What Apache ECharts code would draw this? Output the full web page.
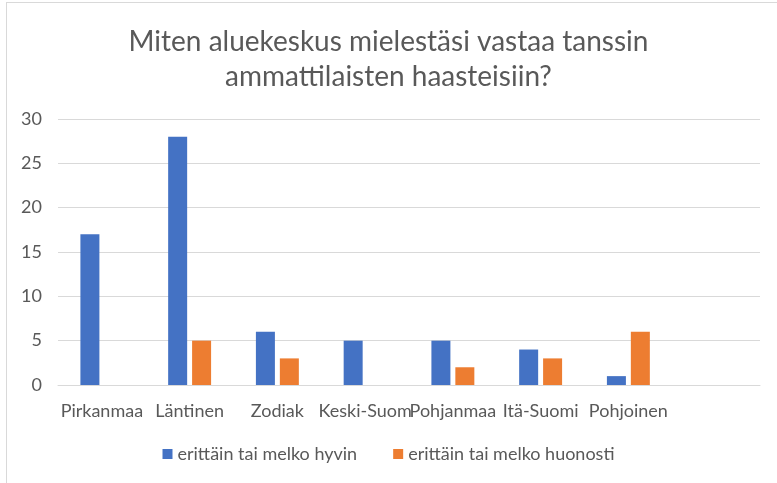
<!DOCTYPE html>
<html>
<head>
<meta charset="utf-8">
<script src="https://cdn.jsdelivr.net/npm/echarts@6/dist/echarts.min.js"></script>
<style>
	html, body { margin: 0; padding: 0; background: #fff; }
	#frame { position: absolute; left: 6px; top: 2px; width: 800px; height: 500px; border-top: 1px solid #d9d9d9; border-left: 1px solid #d9d9d9; }
	#chart { position: absolute; left: 0; top: 0; width: 777px; height: 483px; }
</style>
</head>
<body>
<div id="frame"></div>
<div id="chart"></div>
<script>
	// alueet (viimeinen sarake tyhjä kuten alkuperäisessä)
	var categories = ['Pirkanmaa', 'Läntinen', 'Zodiak', 'Keski-Suom', 'Pohjanmaa', 'Itä-Suomi', 'Pohjoinen', '']
	var hyvin = [17, 28, 6, 5, 5, 4, 1, null]
	var huonosti = [null, 5, 3, null, 2, 3, 6, null]
	var seriesNames = ['erittäin tai melko hyvin', 'erittäin tai melko huonosti']
	var yTicks = [0, 5, 10, 15, 20, 25, 30]

	var font = 'Lato, "Open Sans", sans-serif'
	var textColor = '#595959'

	var dom = echarts.init(document.getElementById('chart'))
	var option = {
		animation: false,
		title: {
			text: 'Miten aluekeskus mielestäsi vastaa tanssin\nammattilaisten haasteisiin?',
			left: 'center',
			top: 19,
			textStyle: {
				fontFamily: font,
				fontSize: 28,
				fontWeight: 'normal',
				color: textColor,
				lineHeight: 35
			}
		},
		legend: {
			top: 440,
			left: 'center',
			itemWidth: 10,
			itemHeight: 10,
			itemGap: 36,
			icon: 'rect',
			textStyle: {
				fontFamily: font,
				fontSize: 18,
				color: textColor
			}
		},
		grid: {
			left: 58,
			right: 17,
			top: 119,
			height: 266
		},
		xAxis: {
			type: 'category',
			data: categories,
			axisTick: { show: false },
			axisLine: { lineStyle: { color: '#d9d9d9', width: 1 } },
			axisLabel: {
				interval: 0,
				hideOverlap: false,
				margin: 17,
				fontFamily: font,
				fontSize: 18,
				color: textColor
			}
		},
		yAxis: {
			type: 'value',
			min: yTicks[0],
			max: yTicks[yTicks.length - 1],
			interval: 5,
			axisLine: { show: false },
			axisTick: { show: false },
			splitLine: { lineStyle: { color: '#d9d9d9', width: 1 } },
			axisLabel: {
				margin: 16,
				fontFamily: font,
				fontSize: 18,
				color: textColor
			}
		},
		series: [{
			name: seriesNames[0],
			type: 'bar',
			data: hyvin,
			barWidth: 19,
			barGap: '26%',
			itemStyle: { color: '#4472C4' }
		}, {
			name: seriesNames[1],
			type: 'bar',
			data: huonosti,
			barWidth: 19,
			barGap: '26%',
			itemStyle: { color: '#ED7D31' }
		}]
	}
	dom.setOption(option)
</script>
</body>
</html>
